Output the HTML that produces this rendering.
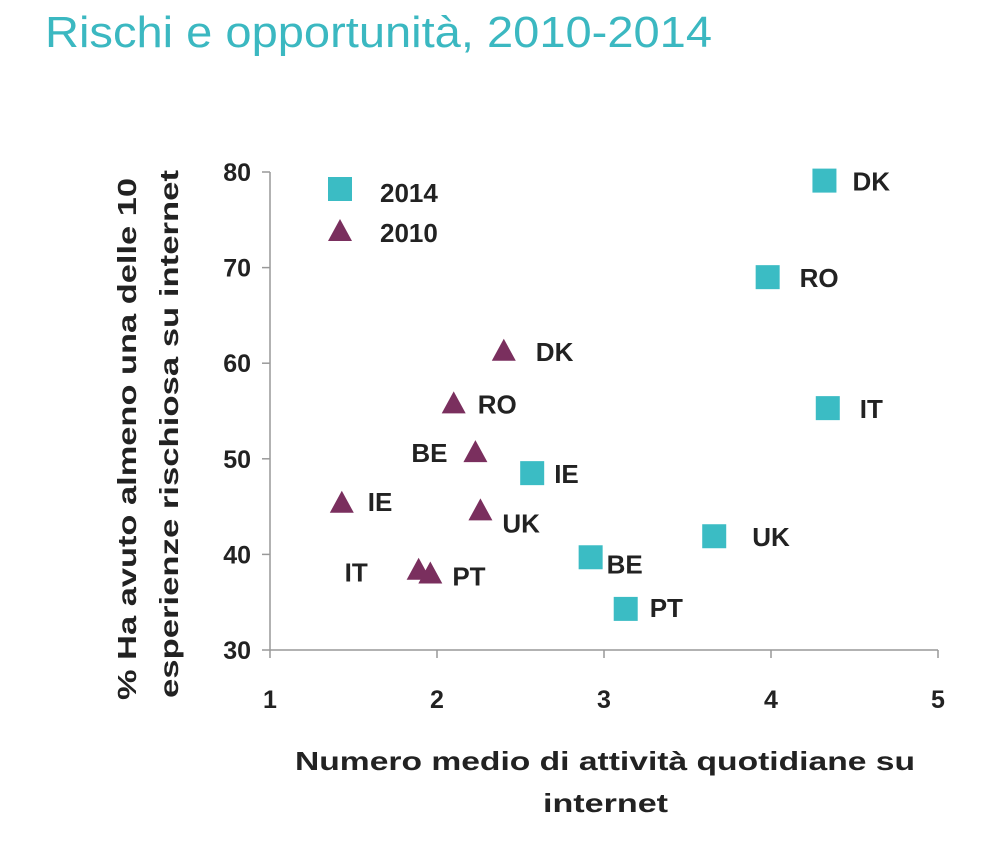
<!DOCTYPE html>
<html><head><meta charset="utf-8"><style>
body{margin:0;background:#fff;}
svg text{font-family:"Liberation Sans",sans-serif;}
</style></head><body>
<svg width="1000" height="843" viewBox="0 0 1000 843">
<text x="45" y="47" font-size="44" fill="#3bb8c1" textLength="667" lengthAdjust="spacingAndGlyphs">Rischi e opportunità, 2010-2014</text>
<g id="plot"></g>
</svg>
<script>
const xTicks=[1,2,3,4,5];
const yTicks=[30,40,50,60,70,80];
const labels2014=["DK","RO","IT","IE","UK","BE","PT"];
const x2014=[4.32,3.98,4.34,2.57,3.66,2.92,3.13];
const y2014=[79.1,69.0,55.3,48.5,41.9,39.7,34.3];
const labels2010=["DK","RO","BE","IE","UK","IT","PT"];
const x2010=[2.40,2.10,2.23,1.43,2.26,1.89,1.96];
const y2010=[61.3,55.8,50.7,45.4,44.6,38.4,38.0];
const off2014=[[28,10],[32,10],[32,10],[22,10],[38,10],[16,16],[24,8]];
const off2010=[[32,10],[24,10],[-64,10],[26,8],[22,22],[-74,12],[22,12]];

const NS="http://www.w3.org/2000/svg";
const g=document.getElementById('plot');
const X=v=>270+(v-1)*167;
const Y=v=>650-(v-30)*9.56;
function mk(t,a,txt){const e=document.createElementNS(NS,t);for(const k in a)e.setAttribute(k,a[k]);if(txt!==undefined)e.textContent=txt;g.appendChild(e);return e;}
let e;
e=mk('line',{x1:270,y1:172,x2:270,y2:650,stroke:'#999','stroke-width':1.5});


e=mk('line',{x1:270,y1:650,x2:938,y2:650,stroke:'#999','stroke-width':1.5});


yTicks.forEach(v=>{
 mk('line',{x1:262,y1:Y(v),x2:270,y2:Y(v),stroke:'#999','stroke-width':1.5});
 e=mk('text',{x:251,y:Y(v)+9,'font-size':25,'font-weight':'bold','text-anchor':'end',fill:'#222'},v);
 
 
});
xTicks.forEach(v=>{
 mk('line',{x1:X(v),y1:650,x2:X(v),y2:658,stroke:'#999','stroke-width':1.5});
 e=mk('text',{x:X(v),y:708,'font-size':25,'font-weight':'bold','text-anchor':'middle',fill:'#222'},v);
 
 
});
e=mk('text',{x:295,y:770,'font-size':26,'font-weight':'bold',fill:'#222',textLength:620,lengthAdjust:'spacingAndGlyphs'},'Numero medio di attività quotidiane su');


e=mk('text',{x:543,y:812,'font-size':26,'font-weight':'bold',fill:'#222',textLength:125,lengthAdjust:'spacingAndGlyphs'},'internet');


e=mk('text',{transform:'translate(136,700) rotate(-90)','font-size':26,'font-weight':'bold',fill:'#222',textLength:522,lengthAdjust:'spacingAndGlyphs'},'% Ha avuto almeno una delle 10');


e=mk('text',{transform:'translate(178,698) rotate(-90)','font-size':26,'font-weight':'bold',fill:'#222',textLength:528,lengthAdjust:'spacingAndGlyphs'},'esperienze  rischiosa su internet');


function sq(cx,cy){return mk('rect',{x:cx-12,y:cy-12,width:24,height:24,fill:'#3bbcc4'});}
function tri(cx,cy){return mk('polygon',{points:`${cx},${cy-12} ${cx+12},${cy+10} ${cx-12},${cy+10}`,fill:'#7a2f5e'});}
x2014.forEach((v,i)=>{
 const cx=X(v),cy=Y(y2014[i]);
 e=sq(cx,cy);
 
 
 e=mk('text',{x:cx+off2014[i][0],y:cy+off2014[i][1],'font-size':26,'font-weight':'bold',fill:'#222'},labels2014[i]);
 
 
});
x2010.forEach((v,i)=>{
 const cx=X(v),cy=Y(y2010[i]);
 e=tri(cx,cy);
 
 
 e=mk('text',{x:cx+off2010[i][0],y:cy+off2010[i][1],'font-size':26,'font-weight':'bold',fill:'#222'},labels2010[i]);
 
 
});
e=sq(340,189);


e=mk('text',{x:380,y:202,'font-size':26,'font-weight':'bold',fill:'#222'},'2014');


e=tri(340,231);


e=mk('text',{x:380,y:242,'font-size':26,'font-weight':'bold',fill:'#222'},'2010');


</script>
</body></html>
